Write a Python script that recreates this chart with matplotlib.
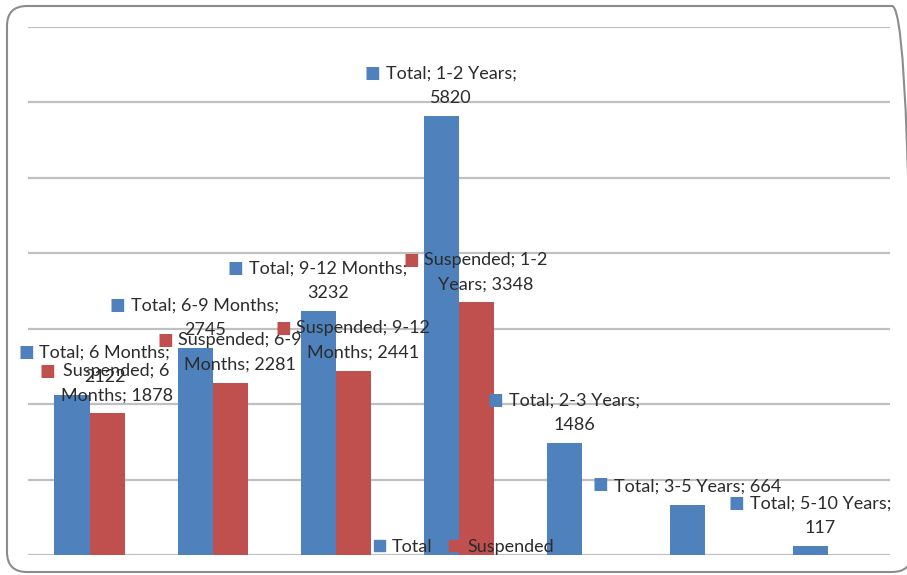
import matplotlib
matplotlib.use("Agg")
import matplotlib.pyplot as plt
import numpy as np
from matplotlib.patches import FancyBboxPatch, Patch
from matplotlib.transforms import IdentityTransform

# suspension duration buckets
categories = ["6 Months", "6-9 Months", "9-12 Months", "1-2 Years",
              "2-3 Years", "3-5 Years", "5-10 Years"]
total = [2122, 2745, 3232, 5820, 1486, 664, 117]
suspended = [1878, 2281, 2441, 3348]

BLUE = "#4F81BD"
RED = "#C0504D"
TEXT = "#2b2b2b"
FONT = "Lato"
FS = 13

plt.rcParams["font.family"] = [FONT, "DejaVu Sans"]

fig = plt.figure(figsize=(9.07, 5.75), dpi=100)
ax = fig.add_axes([28 / 907, 20 / 575, 862 / 907, 528 / 575])

x = np.arange(len(categories))
w = 0.285
ax.bar(x - w / 2, total, w, color=BLUE, zorder=3)
ax.bar(x[:len(suspended)] + w / 2, suspended, w, color=RED, zorder=3)

ax.set_xlim(-0.5, len(categories) - 0.5)
ax.set_ylim(0, 7000)
ax.set_yticks(np.arange(0, 7001, 1000))
ax.yaxis.grid(True, color="#c0c0c0", linewidth=1.6, zorder=0)
ax.set_xticks([])
ax.tick_params(left=False, labelleft=False)
for s in ax.spines.values():
    s.set_visible(False)


def label(xpos, value, name, cat, color, wrap, shift=0):
    if wrap == 1:
        txt = f"{name}; {cat};\n{value}"
    elif wrap == 2:
        first, rest = cat.split(" ", 1)
        txt = f"{name}; {first}\n{rest}; {value}"
    else:
        txt = f"{name}; {cat}; {value}"
    t = ax.annotate(txt, xy=(xpos, value), xytext=(9.5 + shift, 10),
                    textcoords="offset pixels", ha="center", va="bottom",
                    multialignment="center", fontsize=FS, color=TEXT,
                    family=[FONT, "DejaVu Sans"], linespacing=1.65, zorder=5)
    return t, color


labels = []
for i, v in enumerate(total):
    wrap = 0 if categories[i] == "3-5 Years" else 1
    shift = 23 if i == 0 else 0
    labels.append(label(x[i] - w / 2, v, "Total", categories[i], BLUE, wrap, shift))
for i, v in enumerate(suspended):
    labels.append(label(x[i] + w / 2, v, "Suspended", categories[i], RED, 2))

# place the colour key square in front of each data label
fig.canvas.draw()
renderer = fig.canvas.get_renderer()
for t, color in labels:
    bb = t.get_window_extent(renderer)
    n = t.get_text().count("\n") + 1
    line_h = bb.height / n
    ax.annotate("\u25a0", xy=(bb.x0 - 13, bb.y1 - line_h / 2 + 2.5), xycoords="figure pixels",
                ha="center", va="center", fontsize=12, color=color,
                family="DejaVu Sans", zorder=5)

fig.legend(handles=[Patch(color=BLUE, label="Total"), Patch(color=RED, label="Suspended")],
           loc="center", bbox_to_anchor=(464 / 907, 28 / 575), ncol=2, frameon=False,
           handlelength=0.6, handleheight=0.6, handletextpad=0.4, columnspacing=0.9,
           prop={"family": FONT, "size": FS}, labelcolor=TEXT)

border = FancyBboxPatch((7, 3), 905, 566, boxstyle="round,pad=0,rounding_size=20",
                        transform=IdentityTransform(), fill=False,
                        edgecolor="#8c8c8c", linewidth=1.5)
fig.add_artist(border)

fig.savefig("out.png", dpi=100)
